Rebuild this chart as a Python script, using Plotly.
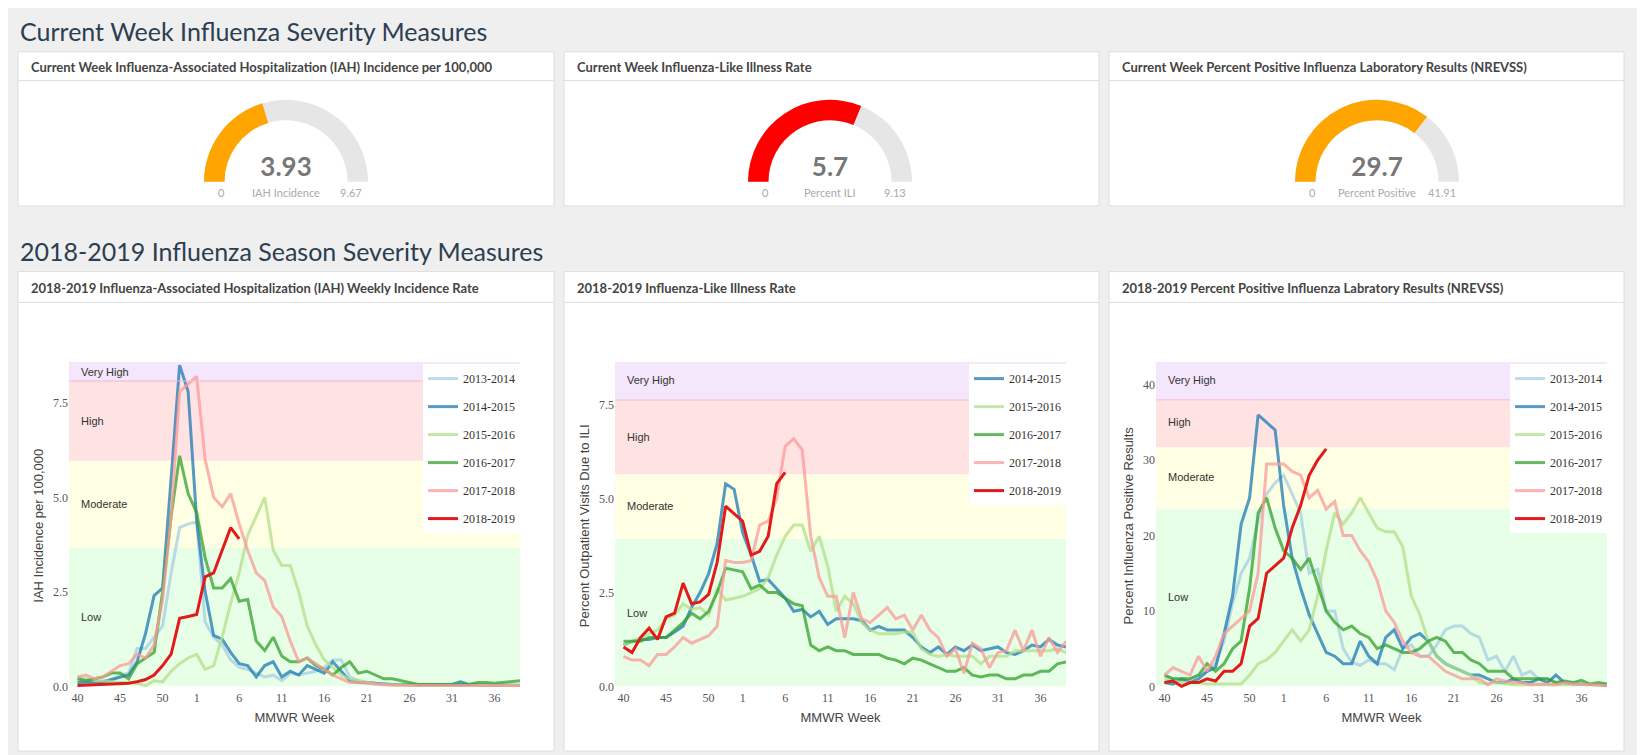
import plotly.graph_objects as go

W, H = 1645, 755

# MMWR weeks 40..53 then 1..39, plotted by position
weeks = list(range(40, 54)) + list(range(1, 40))
tick_weeks = [40, 45, 50, 1, 6, 11, 16, 21, 26, 31, 36]

seasons = ["2013-2014", "2014-2015", "2015-2016", "2016-2017", "2017-2018", "2018-2019"]
colors = {"2013-2014": "#a6cee3", "2014-2015": "#1f78b4", "2015-2016": "#b2df8a",
          "2016-2017": "#33a02c", "2017-2018": "#fb9a99", "2018-2019": "#e31a1c"}

# ---- IAH incidence per 100,000
iah = {
    "2013-2014": [0.2, 0.15, 0.1, 0.05, 0.15, 0.3, 0.35, 1.0, 1.0, 1.3, 1.6, 3.0, 4.2, 4.3, 4.35, 1.7, 1.3, 1.1,
                  0.7, 0.5, 0.45, 0.35, 0.25, 0.3, 0.15, 0.35, 0.3, 0.35, 0.4, 0.5, 0.7, 0.7, 0.25, 0.15, 0.1,
                  0.08, 0.05, 0.05, 0.04, 0.04, 0.03, 0.03, 0.03, 0.03, 0.03, 0.03, 0.02, 0.02, 0.02, 0.02, 0.02,
                  0.02, 0.02],
    "2014-2015": [0.1, 0.1, 0.1, 0.12, 0.18, 0.25, 0.3, 0.65, 1.4, 2.4, 2.6, 5.5, 8.5, 7.8, 4.4, 2.5, 1.35, 1.25,
                  0.9, 0.6, 0.55, 0.25, 0.55, 0.65, 0.25, 0.4, 0.3, 0.55, 0.45, 0.35, 0.65, 0.4, 0.15, 0.1, 0.1,
                  0.08, 0.06, 0.05, 0.05, 0.04, 0.04, 0.04, 0.04, 0.05, 0.05, 0.12, 0.05, 0.04, 0.03, 0.03, 0.03,
                  0.03, 0.03],
    "2015-2016": [0.25, 0.2, 0.15, 0.15, 0.12, 0.1, 0.1, 0.08, 0.02, 0.15, 0.12, 0.4, 0.6, 0.75, 0.85, 0.45, 0.55,
                  1.3, 2.2, 3.0, 4.0, 4.5, 5.0, 3.6, 3.2, 3.2, 2.5, 1.6, 1.1, 0.7, 0.5, 0.3, 0.2, 0.15, 0.1, 0.06,
                  0.05, 0.05, 0.04, 0.04, 0.04, 0.03, 0.03, 0.03, 0.03, 0.03, 0.03, 0.03, 0.03, 0.03, 0.03, 0.03,
                  0.03],
    "2016-2017": [0.2, 0.15, 0.2, 0.25, 0.35, 0.35, 0.2, 0.6, 0.75, 0.9, 2.5, 4.5, 6.1, 5.1, 4.6, 3.4, 2.6, 2.6,
                  2.85, 2.25, 2.3, 1.2, 0.95, 1.3, 0.8, 0.65, 0.65, 0.75, 0.55, 0.45, 0.3, 0.5, 0.65, 0.35, 0.4,
                  0.3, 0.2, 0.2, 0.15, 0.1, 0.05, 0.05, 0.05, 0.05, 0.05, 0.05, 0.05, 0.1, 0.1, 0.08, 0.1, 0.12,
                  0.15],
    "2017-2018": [0.25, 0.3, 0.2, 0.25, 0.4, 0.55, 0.6, 0.85, 0.75, 1.1, 2.3, 4.5, 7.8, 8.0, 8.2, 6.0, 5.0, 4.75,
                  5.1, 4.3, 3.6, 3.0, 2.8, 2.1, 1.85, 1.2, 0.65, 0.75, 0.6, 0.45, 0.3, 0.2, 0.1, 0.1, 0.08, 0.05,
                  0.04, 0.03, 0.03, 0.02, 0.02, 0.02, 0.02, 0.02, 0.02, 0.02, 0.02, 0.02, 0.02, 0.02, 0.02, 0.02,
                  0.02],
    "2018-2019": [0.02, 0.03, 0.04, 0.05, 0.06, 0.07, 0.08, 0.12, 0.18, 0.3, 0.55, 0.85, 1.8, 1.85, 1.9, 2.9,
                  3.0, 3.6, 4.2, 3.9],
}

# ---- Percent outpatient visits due to ILI
ili = {
    "2014-2015": [1.1, 1.2, 1.25, 1.25, 1.3, 1.3, 1.45, 1.6, 2.1, 2.5, 3.0, 3.8, 5.4, 5.25, 4.1, 3.5, 2.8, 2.85,
                  2.6, 2.35, 2.0, 2.05, 1.85, 2.0, 1.65, 1.8, 1.8, 1.8, 1.75, 1.5, 1.6, 1.5, 1.5, 1.5, 1.3, 1.05,
                  0.9, 1.05, 0.85, 1.05, 0.95, 1.1, 0.95, 1.0, 1.05, 0.9, 0.85, 0.95, 1.1, 1.05, 1.25, 1.1, 1.05],
    "2015-2016": [1.1, 1.2, 1.3, 1.4, 1.5, 1.8, 1.9, 2.2, 2.05, 2.1, 1.9, 2.6, 2.3, 2.35, 2.4, 2.5, 2.6, 2.9,
                  3.5, 4.0, 4.3, 4.3, 3.6, 4.0, 3.2, 2.0, 2.4, 2.2, 1.7, 1.5, 1.4, 1.4, 1.4, 1.45, 1.45, 1.0,
                  0.85, 0.8, 0.85, 0.8, 0.8, 0.8, 0.6, 0.8, 0.8, 0.8, 0.95, 0.95, 0.95, 0.95, 0.95, 1.0, 0.9],
    "2016-2017": [1.2, 1.2, 1.2, 1.3, 1.3, 1.3, 1.5, 1.7, 1.95, 1.8, 2.0, 2.5, 3.15, 3.1, 3.05, 2.6, 2.7, 2.5,
                  2.5, 2.35, 2.2, 2.15, 1.1, 0.95, 1.05, 0.95, 0.95, 0.85, 0.85, 0.85, 0.85, 0.75, 0.7, 0.6,
                  0.75, 0.7, 0.6, 0.5, 0.4, 0.4, 0.5, 0.3, 0.25, 0.3, 0.3, 0.2, 0.2, 0.3, 0.3, 0.4, 0.4, 0.6, 0.65],
    "2017-2018": [0.8, 0.7, 0.7, 0.55, 0.85, 0.85, 1.05, 1.3, 1.15, 1.25, 1.35, 1.6, 3.35, 3.3, 3.3, 3.35, 4.3,
                  4.4, 5.0, 6.4, 6.6, 6.3, 4.0, 2.9, 2.4, 2.4, 1.3, 2.5, 1.8, 1.7, 1.9, 2.1, 1.8, 1.9, 1.5, 1.9,
                  1.5, 1.3, 0.8, 1.0, 0.35, 1.15, 1.0, 0.5, 0.9, 0.95, 1.5, 0.95, 1.5, 0.8, 1.3, 0.9, 1.2],
    "2018-2019": [1.05, 0.9, 1.3, 1.55, 1.25, 1.85, 1.95, 2.75, 2.2, 2.25, 2.45, 3.3, 4.8, 4.6, 4.4, 3.5, 3.6,
                  4.0, 5.4, 5.7],
}

# ---- Percent positive influenza laboratory results
pos = {
    "2013-2014": [1.5, 1.0, 0.8, 1.0, 1.5, 2.0, 3.0, 6.0, 11, 15, 17, 22, 25.5, 27, 28, 25.5, 23, 15, 15.5, 10,
                  10, 5, 3.2, 2.8, 3.5, 3, 3, 2.2, 5, 5.5, 4, 4, 5.5, 7.5, 8, 8, 7, 6.5, 3.5, 4, 2, 4, 1.5, 2, 1,
                  1, 0.5, 0.5, 0.5, 0.3, 0.3, 0.3, 0.2],
    "2014-2015": [0.5, 0.3, 1.0, 0.5, 1.0, 2.0, 2.5, 7, 12, 21.5, 25, 36, 35, 34, 24, 17, 13, 9.5, 7, 4.5, 4, 3,
                  3, 6, 4, 3, 6.5, 7.5, 5, 6.5, 7, 6, 4, 3, 2.5, 2, 1.5, 1.5, 1, 0.5, 0.5, 1, 0.5, 0.5, 1, 0.5,
                  1.5, 0.5, 0.3, 0.3, 0.2, 0.2, 0.1],
    "2015-2016": [1.0, 0.8, 0.5, 0.5, 0.5, 0.3, 0.3, 0.2, 0.3, 0.3, 1.5, 3, 3.5, 4.5, 6, 7.5, 6, 7.5, 12, 18, 23,
                  21.5, 23, 25, 23, 21, 20.5, 20.5, 18.5, 12, 9.5, 6, 4, 3, 2.5, 2, 1.5, 0.5, 0.3, 0.5, 0.3, 0.2,
                  0.2, 0.2, 0.2, 0.2, 0.2, 0.2, 0.2, 0.2, 0.2, 0.2, 0.2],
    "2016-2017": [1.5, 1.0, 1.0, 1.0, 1.5, 3, 2, 3, 5, 6, 13, 23, 25, 21, 18, 17, 15.5, 17, 13.5, 10, 8.5, 7.5,
                  8, 7, 6.5, 5, 5.5, 5, 4.5, 4.5, 5, 6, 6.5, 6, 4.5, 4.5, 3.5, 3, 2, 2, 2, 1, 1, 1, 1, 1, 0.5, 0.7,
                  0.5, 0.8, 0.3, 0.5, 0.3],
    "2017-2018": [1.5, 2.5, 2, 1.5, 4, 2, 4, 7, 8, 9, 10, 15, 29.5, 29.5, 29.5, 28.5, 28, 25, 26, 23.5, 24.5, 20,
                  20, 18, 16.5, 14, 10, 8.5, 6, 4.5, 4, 4, 3, 2, 1.5, 1, 1, 1, 0.2, 1, 0.7, 0.5, 0.5, 0.2, 0.3,
                  0.2, 0.2, 0.5, 0.3, 0.3, 0.2, 0.1, 0.1],
    "2018-2019": [0.5, 0.7, 0, 0.5, 0.5, 1, 0.7, 2, 2, 3, 8, 9, 15, 16, 17, 21, 24, 28, 30, 31.5],
}

# severity thresholds (low/moderate/high/very high upper bounds)
iah_bands = [3.66, 5.97, 8.08, 8.58]
ili_bands = [3.93, 5.65, 7.63, 8.64]
pos_bands = [23.6, 31.7, 38.0, 43.0]
band_names = ["Low", "Moderate", "High", "Very High"]
band_colors = ["#e6ffe6", "#ffffe3", "#ffe3e3", "#f4e6fb"]

# current week gauges: value, max, label, colour
gauge_vals = [3.93, 5.7, 29.7]
gauge_max = [9.67, 9.13, 41.91]
gauge_labels = ["IAH Incidence", "Percent ILI", "Percent Positive"]
gauge_colors = ["#ffa500", "#ff0000", "#ffa500"]


def fx(p):
    return p / W


def fy(p):
    return 1 - p / H


fig = go.Figure()
shapes = []
ann = []

# page titles
for txt, y in [("Current Week Influenza Severity Measures", 23),
               ("2018-2019 Influenza Season Severity Measures", 244)]:
    ann.append(dict(text=txt, x=fx(10), y=fy(y), xref="paper", yref="paper", xanchor="left",
                    yanchor="middle", showarrow=False,
                    font=dict(family="Lato", size=25, color="#2c3e50")))

panel_x = [(10, 546), (556, 1091), (1101, 1616)]
top_titles = ["Current Week Influenza-Associated Hospitalization (IAH) Incidence per 100,000",
              "Current Week Influenza-Like Illness Rate",
              "Current Week Percent Positive Influenza Laboratory Results (NREVSS)"]
bot_titles = ["2018-2019 Influenza-Associated Hospitalization (IAH) Weekly Incidence Rate",
              "2018-2019 Influenza-Like Illness Rate",
              "2018-2019 Percent Positive Influenza Labratory Results (NREVSS)"]

for (x0, x1), tt, bt in zip(panel_x, top_titles, bot_titles):
    for (y0, y1, yl, yt, t) in [(44, 199, 73, 59, tt), (265, 747, 296, 281, bt)]:
        shapes.append(dict(type="rect", xref="paper", yref="paper", x0=fx(x0), x1=fx(x1), y0=fy(y1),
                           y1=fy(y0), fillcolor="white", line=dict(color="#dddddd", width=1), layer="below"))
        shapes.append(dict(type="line", xref="paper", yref="paper", x0=fx(x0), x1=fx(x1), y0=fy(yl),
                           y1=fy(yl), line=dict(color="#dddddd", width=1), layer="below"))
        ann.append(dict(text="<b>" + t + "</b>", x=fx(x0 + 11), y=fy(yt), xref="paper", yref="paper",
                        xanchor="left", yanchor="middle", showarrow=False,
                        font=dict(family="Lato", size=13, color="#444444")))

# gauges
centers = [278, 822, 1369]
for c, v, m, lab, col in zip(centers, gauge_vals, gauge_max, gauge_labels, gauge_colors):
    fig.add_trace(go.Indicator(
        mode="gauge+number", value=v,
        number=dict(font=dict(family="Lato", size=26, color="#777777", weight="bold")),
        gauge=dict(shape="angular", axis=dict(range=[0, m], visible=False),
                   bar=dict(color=col, thickness=1), bgcolor="#e6e6e6", borderwidth=0),
        domain=dict(x=[fx(c - 82), fx(c + 82)], y=[fy(175), fy(92)])))
    for tx, dx, in [("0", -65), (lab, 0), (str(m), 65)]:
        ann.append(dict(text=tx, x=fx(c + dx), y=fy(185), xref="paper", yref="paper", xanchor="center",
                        yanchor="middle", showarrow=False,
                        font=dict(family="Lato", size=11, color="#aaaaaa")))

# line charts
plot_x = [(61, 512), (607, 1058), (1148, 1599)]
datasets = [iah, ili, pos]
bands = [iah_bands, ili_bands, pos_bands]
yranges = [[-0.08, 8.58], [-0.08, 8.64], [-0.4, 43.0]]
ytitles = ["IAH Incidence per 100,000", "Percent Outpatient Visits Due to ILI",
           "Percent Influenza Positive Results"]
label_y = [[1.83, 4.82, 7.03, 8.32], [1.95, 4.8, 6.65, 8.16], [11.85, 27.8, 35.0, 40.6]]
xs = list(range(len(weeks)))
tickvals = [weeks.index(w) if w >= 40 else 14 + w - 1 for w in tick_weeks]

for k in range(3):
    n = "" if k == 0 else str(k + 1)
    xa, ya = "x" + n, "y" + n
    lg = "legend" + n
    for s in seasons:
        if s not in datasets[k]:
            continue
        vals = datasets[k][s]
        fig.add_trace(go.Scatter(
            x=xs[:len(vals)], y=vals, mode="lines", name=s, xaxis=xa, yaxis=ya, legend=lg,
            legendgroup=s + n, opacity=1 if s == "2018-2019" else 0.75,
            line=dict(color=colors[s], width=3)))
    lo = 0
    for b, nm, bc, ly in zip(bands[k], band_names, band_colors, label_y[k]):
        shapes.append(dict(type="rect", xref=xa, yref=ya, x0=-1, x1=52, y0=lo, y1=b, fillcolor=bc,
                           line=dict(width=0), layer="below"))
        ann.append(dict(text=nm, x=0.2, y=ly, xref=xa, yref=ya, xanchor="left", showarrow=False,
                        font=dict(family="Arial", size=11, color="#333333")))
        lo = b
    shapes.append(dict(type="line", xref=xa, yref=ya, x0=-1, x1=52, y0=bands[k][2], y1=bands[k][2],
                       line=dict(color="#f0b8d8", width=1)))
    p0, p1 = plot_x[k]
    fig.update_layout({
        "xaxis" + n: dict(domain=[fx(p0), fx(p1)], range=[-1, 52], tickvals=tickvals,
                          ticktext=[str(w) for w in tick_weeks], showgrid=False, zeroline=False,
                          anchor=ya, title=dict(text="MMWR Week", font=dict(family="Arial", size=13,
                                                                             color="#444444"), standoff=8),
                          tickfont=dict(family="Liberation Serif", size=12, color="#555555")),
        "yaxis" + n: dict(domain=[fy(685), fy(356)], range=yranges[k], dtick=10 if k == 2 else 2.5,
                          tickformat="d" if k == 2 else ".1f", showgrid=False, zeroline=False, anchor=xa,
                          title=dict(text=ytitles[k], font=dict(family="Arial", size=13, color="#444444"),
                                     standoff=6),
                          tickfont=dict(family="Liberation Serif", size=12, color="#555555")),
        lg: dict(x=fx(p1), xanchor="right", y=fy(358), yanchor="top", bgcolor="white",
                 tracegroupgap=9, font=dict(family="Liberation Serif", size=12, color="#333333")),
    })

fig.update_layout(width=W, height=H, margin=dict(l=0, r=0, t=0, b=0), paper_bgcolor="#efefef",
                  plot_bgcolor="rgba(0,0,0,0)", shapes=shapes, annotations=ann, showlegend=True)

fig.write_html("out.html")
